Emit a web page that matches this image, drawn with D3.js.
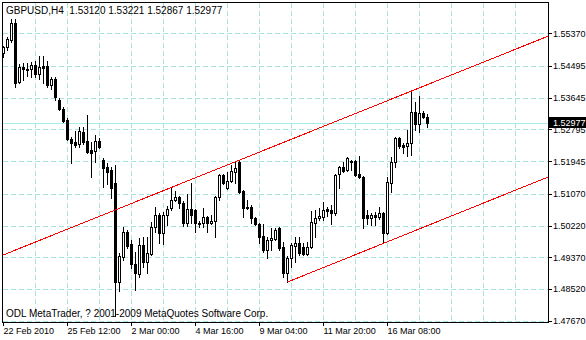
<!DOCTYPE html>
<html>
<head>
<meta charset="utf-8">
<script src="https://cdn.jsdelivr.net/npm/d3@7"></script>
<style>
  body { margin: 0; background: #fff; }
  svg text { font-family: Arial, 'Liberation Sans', sans-serif; font-size: 9px; }
  svg text.rotulo { font-size: 10px; }
</style>
</head>
<body>
<div id="graf"></div>
<script>
// -- Datos (GBPUSD H4, una vela cada 4 horas)
simbolo = 'GBPUSD,H4'
copyright = 'ODL MetaTrader, ? 2001-2009 MetaQuotes Software Corp.'

aperturas = [1.5484, 1.5500, 1.5519, 1.5565, 1.5407, 1.5447, 1.5441, 1.5441, 1.5452, 1.5428,
             1.5449, 1.5449, 1.5399, 1.5415, 1.5358, 1.5334, 1.5305, 1.5254, 1.5246, 1.5241,
             1.5273, 1.5249, 1.5225, 1.5222, 1.5249, 1.5198, 1.5179, 1.5171, 1.5136, 1.4871,
             1.4938, 1.5005, 1.4973, 1.4920, 1.4893, 1.4970, 1.4925, 1.4946, 1.5019, 1.5051,
             1.5002, 1.5051, 1.5069, 1.5091, 1.5099, 1.5083, 1.5029, 1.5067, 1.5064, 1.5029,
             1.5029, 1.5045, 1.5029, 1.5035, 1.5099, 1.5158, 1.5123, 1.5142, 1.5166, 1.5193,
             1.5115, 1.5072, 1.5072, 1.5043, 1.5027, 1.4994, 1.4957, 1.4984, 1.4986, 1.5016,
             1.4965, 1.4895, 1.4936, 1.4968, 1.4976, 1.4965, 1.4946, 1.4965, 1.5029, 1.5043,
             1.5045, 1.5067, 1.5064, 1.5056, 1.5160, 1.5179, 1.5171, 1.5195, 1.5195, 1.5160,
             1.5152, 1.5051, 1.5043, 1.5051, 1.5045, 1.5056, 1.5002, 1.5136, 1.5193, 1.5257,
             1.5238, 1.5235, 1.5243, 1.5326, 1.5294, 1.5324, 1.53120]
maximos = [1.5503, 1.5527, 1.5575, 1.5575, 1.5455, 1.5457, 1.5457, 1.5460, 1.5463, 1.5476,
           1.5476, 1.5463, 1.5420, 1.5420, 1.5364, 1.5340, 1.5310, 1.5260, 1.5276, 1.5286,
           1.5286, 1.5318, 1.5246, 1.5265, 1.5257, 1.5203, 1.5190, 1.5179, 1.5185, 1.4949,
           1.5019, 1.5011, 1.4984, 1.4952, 1.4989, 1.4992, 1.4992, 1.5032, 1.5072, 1.5056,
           1.5059, 1.5075, 1.5126, 1.5115, 1.5102, 1.5088, 1.5107, 1.5136, 1.5067, 1.5035,
           1.5069, 1.5048, 1.5051, 1.5102, 1.5160, 1.5160, 1.5166, 1.5185, 1.5193, 1.5198,
           1.5118, 1.5091, 1.5077, 1.5045, 1.5029, 1.5027, 1.4992, 1.5016, 1.5016, 1.5019,
           1.4978, 1.4941, 1.4976, 1.4992, 1.4992, 1.4976, 1.4978, 1.5061, 1.5064, 1.5069,
           1.5085, 1.5072, 1.5077, 1.5161, 1.5182, 1.5193, 1.5206, 1.5198, 1.5198, 1.5209,
           1.5155, 1.5064, 1.5056, 1.5059, 1.5072, 1.5059, 1.5152, 1.5206, 1.5260, 1.5260,
           1.5243, 1.5278, 1.5382, 1.5353, 1.5369, 1.5329, 1.53221]
minimos = [1.5474, 1.5492, 1.5514, 1.5393, 1.5404, 1.5412, 1.5423, 1.5420, 1.5420, 1.5415,
           1.5404, 1.5393, 1.5388, 1.5358, 1.5332, 1.5300, 1.5251, 1.5190, 1.5233, 1.5233,
           1.5241, 1.5217, 1.5152, 1.5193, 1.5230, 1.5126, 1.5134, 1.5096, 1.4780, 1.4847,
           1.4930, 1.4962, 1.4909, 1.4850, 1.4885, 1.4912, 1.4895, 1.4944, 1.5005, 1.4976,
           1.4973, 1.5024, 1.5064, 1.5088, 1.5069, 1.5021, 1.5021, 1.5029, 1.5005, 1.5019,
           1.5019, 1.5005, 1.5027, 1.4992, 1.5091, 1.5134, 1.5120, 1.5139, 1.5136, 1.5110,
           1.5045, 1.5067, 1.5029, 1.5024, 1.4976, 1.4952, 1.4936, 1.4957, 1.4984, 1.4957,
           1.4885, 1.4871, 1.4912, 1.4925, 1.4944, 1.4944, 1.4944, 1.4962, 1.4992, 1.5037,
           1.5037, 1.5048, 1.5027, 1.5051, 1.5123, 1.5166, 1.5168, 1.5171, 1.5155, 1.5150,
           1.5016, 1.5027, 1.5024, 1.5024, 1.5040, 1.4976, 1.5000, 1.5112, 1.5179, 1.5230,
           1.5217, 1.5209, 1.5211, 1.5278, 1.5273, 1.5310, 1.52867]
cierres = [1.5500, 1.5522, 1.5565, 1.5404, 1.5447, 1.5441, 1.5439, 1.5452, 1.5428, 1.5447,
           1.5444, 1.5399, 1.5415, 1.5367, 1.5334, 1.5302, 1.5254, 1.5243, 1.5238, 1.5276,
           1.5246, 1.5219, 1.5217, 1.5249, 1.5233, 1.5176, 1.5166, 1.5123, 1.4871, 1.4941,
           1.5005, 1.4968, 1.4920, 1.4895, 1.4970, 1.4925, 1.4949, 1.5019, 1.5051, 1.5002,
           1.5051, 1.5067, 1.5091, 1.5099, 1.5083, 1.5029, 1.5067, 1.5051, 1.5029, 1.5027,
           1.5045, 1.5029, 1.5035, 1.5099, 1.5158, 1.5136, 1.5142, 1.5168, 1.5176, 1.5112,
           1.5069, 1.5069, 1.5043, 1.5027, 1.4992, 1.4957, 1.4984, 1.4989, 1.5011, 1.4962,
           1.4895, 1.4936, 1.4970, 1.4976, 1.4949, 1.4946, 1.4965, 1.5032, 1.5043, 1.5048,
           1.5064, 1.5061, 1.5056, 1.5158, 1.5179, 1.5168, 1.5203, 1.5193, 1.5158, 1.5152,
           1.5043, 1.5043, 1.5051, 1.5045, 1.5056, 1.5002, 1.5139, 1.5193, 1.5257, 1.5235,
           1.5233, 1.5243, 1.5326, 1.5294, 1.5324, 1.5313, 1.52977]

// -- Eje de precios y eje de tiempo
preciosEje = [1.55370, 1.54495, 1.53645, 1.52795, 1.51945, 1.51070, 1.50220, 1.49370, 1.48520, 1.47670]
barrasTiempo = [0, 16, 32, 48, 64, 80, 96]
etiquetasTiempo = ['22 Feb 2010', '25 Feb 12:00', '2 Mar 00:00', '4 Mar 16:00', '9 Mar 04:00', '11 Mar 20:00', '16 Mar 08:00']
barrasGrid = [8, 16, 24, 32, 40, 48, 56, 64, 72, 80, 88, 96, 104, 112, 120, 128]

// -- Canal equidistante (barra, precio)
canalSupBarras = [-0.25, 136.25]
canalSupPrecios = [1.49423, 1.55298]
canalInfBarras = [71, 136.25]
canalInfPrecios = [1.48706, 1.51524]

// -- Configuración del canvas
ancho_total = 586
alto_total = 340
area = {left: 2.5, top: 2.5, right: 548.5, bottom: 322.5}
colorGrid = '#a9e2df'
colorBid = '#a6eeee'

svg = d3.select('#graf').append('svg')
        .attr('width', ancho_total)
        .attr('height', alto_total)
        .style('display', 'block')
        .attr('shape-rendering', 'crispEdges')

svg.append('rect')
    .attr('width', ancho_total)
    .attr('height', alto_total)
    .attr('fill', '#fff')

// -- Escaladores
x = d3.scaleLinear().domain([0, 136]).range([3, 547])
y = d3.scaleLinear().domain([1.47670, 1.55370]).range([320.7, 33.3])
py = v => Math.round(y(v))

velas = aperturas.map((o, i) => ({i: i, o: o, h: maximos[i], l: minimos[i], c: cierres[i]}))
ultima = velas[velas.length - 1]

// -- Grid
g = svg.append('g')
g.selectAll('.gy')
    .data(preciosEje)
    .join('line')
        .attr('class', 'gy')
        .attr('x1', 3).attr('x2', 548)
        .attr('y1', d => py(d) + 0.5).attr('y2', d => py(d) + 0.5)
        .attr('stroke', colorGrid)
        .attr('stroke-dasharray', '5,3')
g.selectAll('.gx')
    .data(barrasGrid)
    .join('line')
        .attr('class', 'gx')
        .attr('x1', d => x(d) + 0.5).attr('x2', d => x(d) + 0.5)
        .attr('y1', 3).attr('y2', 322)
        .attr('stroke', colorGrid)
        .attr('stroke-dasharray', '5,3')

// -- Línea del bid
g.append('line')
    .attr('x1', 3).attr('x2', 548)
    .attr('y1', py(ultima.c) + 0.5).attr('y2', py(ultima.c) + 0.5)
    .attr('stroke', colorBid)

// -- Velas
v = g.selectAll('.vela')
        .data(velas)
        .join('g')
        .attr('class', 'vela')
v.append('line')
    .attr('x1', d => x(d.i) + 0.5).attr('x2', d => x(d.i) + 0.5)
    .attr('y1', d => py(d.h)).attr('y2', d => py(d.l) + 1)
    .attr('stroke', '#000')
v.filter(d => d.c >= d.o)
    .append('rect')
        .attr('x', d => x(d.i) - 0.5)
        .attr('y', d => py(d.c) + 0.5)
        .attr('width', 2)
        .attr('height', d => py(d.o) - py(d.c))
        .attr('fill', '#fff')
        .attr('stroke', '#000')
v.filter(d => d.c < d.o)
    .append('rect')
        .attr('x', d => x(d.i) - 1)
        .attr('y', d => py(d.o))
        .attr('width', 3)
        .attr('height', d => Math.max(1, py(d.c) - py(d.o) + 1))
        .attr('fill', '#000')

// -- Canal
linea = d3.line().x(d => x(d[0]) + 0.5).y(d => y(d[1]))
g.append('path')
    .attr('d', linea(d3.zip(canalSupBarras, canalSupPrecios)))
    .attr('fill', 'none')
    .attr('stroke', '#ff0000')
g.append('path')
    .attr('d', linea(d3.zip(canalInfBarras, canalInfPrecios)))
    .attr('fill', 'none')
    .attr('stroke', '#ff0000')

// -- Marco
svg.append('rect')
    .attr('x', area.left).attr('y', area.top)
    .attr('width', area.right - area.left)
    .attr('height', area.bottom - area.top)
    .attr('fill', 'none')
    .attr('stroke', '#000')

// -- Ejes
yAxis = d3.axisRight(y)
            .tickValues(preciosEje)
            .tickSize(4)
            .tickPadding(1)
            .tickFormat(d3.format('.5f'))
svg.append('g')
    .attr('transform', `translate(${area.right - 0.5}, 0)`)
    .call(yAxis)
    .call(a => a.select('.domain').remove())
    .call(a => a.selectAll('text').attr('font-size', null).attr('font-family', null).attr('fill', '#000'))

xAxis = d3.axisBottom(x)
            .tickValues(barrasTiempo)
            .tickSize(4)
            .tickFormat((d, i) => etiquetasTiempo[i])
svg.append('g')
    .attr('transform', `translate(0, ${area.bottom - 0.5})`)
    .call(xAxis)
    .call(a => a.select('.domain').remove())
    .call(a => a.selectAll('text')
                .attr('font-size', null).attr('font-family', null)
                .attr('fill', '#000')
                .attr('text-anchor', 'start')
                .attr('x', 0).attr('y', 6))

// -- Etiqueta del último precio
svg.append('rect')
    .attr('x', 549).attr('y', py(ultima.c) - 6)
    .attr('width', 37).attr('height', 11)
    .attr('fill', '#000')
svg.append('text')
    .attr('x', 553).attr('y', py(ultima.c) + 3)
    .attr('fill', '#fff')
    .text(d3.format('.5f')(ultima.c))

// -- Encabezado y copyright
svg.append('text')
    .attr('class', 'rotulo')
    .attr('x', 6).attr('y', 14)
    .style('white-space', 'pre')
    .text(simbolo + '  ' + [ultima.o, ultima.h, ultima.l, ultima.c].map(d3.format('.5f')).join(' '))
svg.append('text')
    .attr('class', 'rotulo')
    .attr('x', 6).attr('y', 317)
    .text(copyright)
</script>
</body>
</html>
